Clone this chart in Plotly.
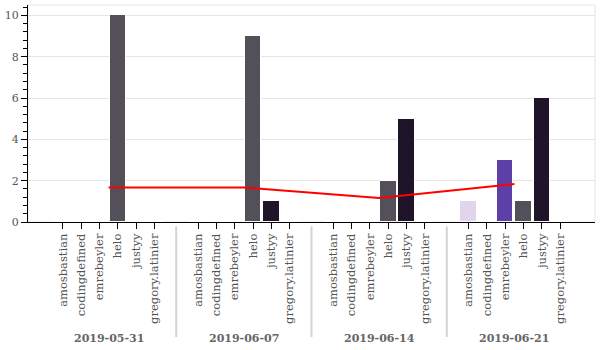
import numpy as np
import plotly.graph_objects as go

weeks = ["2019-05-31", "2019-06-07", "2019-06-14", "2019-06-21"]
users = ["amosbastian", "codingdefined", "emrebeyler", "helo", "justyy", "gregory.latinier"]
# counts[week][user]
counts = [
    [0, 0, 0, 10, 0, 0],
    [0, 0, 0, 9, 1, 0],
    [0, 0, 0, 2, 5, 0],
    [1, 0, 3, 1, 6, 0],
]
user_colors = ["#e2d4ec", "#a48fcc", "#5c40a8", "#535059", "#20142a", "#8a7aa8"]

group_pad = 1.4
n_u = len(users)
n_w = len(weeks)
step = n_u + group_pad

xs, ys, cols, ticktext = [], [], [], []
for g, wk in enumerate(weeks):
    for i, u in enumerate(users):
        xs.append(g * step + i + 0.5)
        ys.append(counts[g][i])
        cols.append(user_colors[i])
        ticktext.append(u)

span = n_w * n_u + (n_w - 1) * group_pad
pad = span * 0.05
x_range = [-pad, span + pad]

centers = [g * step + n_u / 2 for g in range(n_w)]
means = [float(np.mean(c)) for c in counts]

font_family = "DejaVu Serif"

fig = go.Figure()
fig.add_trace(go.Bar(
    x=xs, y=ys, width=0.9,
    marker=dict(color=cols, line=dict(color="white", width=1)),
    showlegend=False, hoverinfo="skip",
))
fig.add_trace(go.Scatter(
    x=centers, y=means, mode="lines",
    line=dict(color="red", width=2),
    showlegend=False, hoverinfo="skip",
))

shapes = [dict(type="rect", xref="paper", yref="paper", x0=0, x1=1, y0=0, y1=1,
               line=dict(color="#e5e5e5", width=1), layer="below")]
for g in range(n_w - 1):
    xd = g * step + n_u + group_pad / 2
    shapes.append(dict(type="line", xref="x", yref="paper", x0=xd, x1=xd,
                       y0=-0.02, y1=-0.53, line=dict(color="lightgrey", width=2)))

annotations = []
for g, wk in enumerate(weeks):
    annotations.append(dict(x=centers[g], y=-0.535, xref="x", yref="paper",
                            text="<b>" + wk + "</b>", showarrow=False,
                            xanchor="center", yanchor="middle",
                            font=dict(family=font_family, size=11, color="#666666")))

fig.update_layout(
    width=600, height=350,
    margin=dict(l=26, r=5, t=5, b=128),
    plot_bgcolor="white", paper_bgcolor="white",
    shapes=shapes, annotations=annotations,
    bargap=0,
    xaxis=dict(
        range=x_range, tickmode="array", tickvals=xs, ticktext=ticktext,
        tickangle=-90, ticks="outside", ticklen=6, tickcolor="black",
        showline=True, linecolor="black", linewidth=1,
        showgrid=False, zeroline=False,
        tickfont=dict(family=font_family, size=11.5, color="#555555"),
    ),
    yaxis=dict(
        range=[0, 10.5], tickmode="linear", tick0=0, dtick=2,
        ticks="outside", ticklen=6, tickcolor="black",
        showline=True, linecolor="black", linewidth=1,
        showgrid=True, gridcolor="#e5e5e5", zeroline=False,
        minor=dict(ticks="outside", ticklen=4, tick0=0, dtick=0.4, tickcolor="black", showgrid=False),
        tickfont=dict(family=font_family, size=11, color="#555555"),
    ),
)

fig.write_html("out.html")
